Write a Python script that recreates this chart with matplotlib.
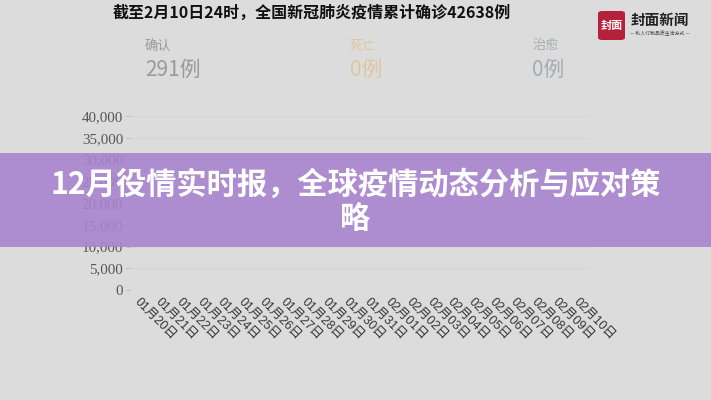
import matplotlib.pyplot as plt
from matplotlib.patches import Rectangle, FancyBboxPatch

# data
dates = ['01月20日', '01月21日', '01月22日', '01月23日', '01月24日', '01月25日',
         '01月26日', '01月27日', '01月28日', '01月29日', '01月30日', '01月31日',
         '02月01日', '02月02日', '02月03日', '02月04日', '02月05日', '02月06日',
         '02月07日', '02月08日', '02月09日', '02月10日']
y_ticks = [0, 5000, 10000, 15000, 20000, 25000, 30000, 35000, 40000]
stat_names = ['确认', '死亡', '治愈']
stat_values = [291, 0, 0]
stat_colors = ['#9a9a9a', '#dcc7a0', '#a3adb3']
title = '截至2月10日24时，全国新冠肺炎疫情累计确诊42638例'
banner = '12月役情实时报，全球疫情动态分析与应对策\n略'

CJK = ['Noto Sans CJK SC', 'DejaVu Sans']
bg = '#dcdcdc'

fig = plt.figure(figsize=(7.11, 4.0), dpi=100, facecolor=bg)
ax = fig.add_axes([130 / 711, 0.275, 460 / 711, 0.435])
ax.set_facecolor(bg)

x = list(range(len(dates)))
ax.set_xlim(-0.5, len(dates) - 0.5)
ax.set_ylim(0, 40000)
ax.set_xticks(x)
ax.set_xticklabels(dates, rotation=-45, ha='left', va='top', rotation_mode='anchor',
                   family=['Liberation Sans', 'Noto Sans CJK SC'], fontsize=9, color='#333333')
ax.set_yticks(y_ticks)
ax.set_yticklabels([f'{v:,}' for v in y_ticks], family='Liberation Serif',
                   fontsize=10.8, color='#555555')
ax.tick_params(axis='y', length=3, width=0.6, color='#b8b8b8', pad=2)
ax.tick_params(axis='x', length=0, pad=4)
ax.grid(axis='y', color='#d5d5d5', linewidth=0.8)
ax.set_axisbelow(True)
for s in ax.spines.values():
    s.set_visible(False)

# header title
fig.text(312 / 711, 1 - 13 / 400, title, ha='center', va='center',
         family=CJK, fontsize=11.5, fontweight='bold', color='#111111')

# stats
stat_x = [145, 350, 532]
for sx, name, val, c in zip(stat_x, stat_names, stat_values, stat_colors):
    fig.text(sx / 711, 1 - 46 / 400, name, ha='left', va='center',
             family=CJK, fontsize=9.5, color=c)
    fig.text(sx / 711, 1 - 70 / 400, f'{val}例', ha='left', va='center',
             family=CJK, fontsize=15, fontweight='light', color=c)

# logo
logo = FancyBboxPatch((598 / 711, 1 - 40 / 400), 27 / 711, 29 / 400,
                      boxstyle='round,pad=0,rounding_size=0.006',
                      transform=fig.transFigure, facecolor='#b5213a', edgecolor='none')
fig.add_artist(logo)
fig.text(611.5 / 711, 1 - 25.5 / 400, '封面', ha='center', va='center',
         family=CJK, fontsize=8, fontweight='bold', color='white')
fig.text(660 / 711, 1 - 20 / 400, '封面新闻', ha='center', va='center',
         family=CJK, fontsize=10.5, fontweight='bold', color='#222222')
fig.text(660 / 711, 1 - 34 / 400, '— 私人订制品质生活方式 —', ha='center', va='center',
         family=CJK, fontsize=3.5, color='#444444')

# banner overlay
fig.add_artist(Rectangle((0, 1 - 247 / 400), 1, 94 / 400, transform=fig.transFigure,
                         facecolor='#a884ce', alpha=0.9, edgecolor='none', zorder=5))
fig.text(0.5, 1 - 202 / 400, banner, ha='center', va='center', multialignment='center',
         family=CJK, fontsize=21.8, fontweight='bold', color='white',
         linespacing=1.1, zorder=6)

fig.savefig('out.png', dpi=100, facecolor=bg)
